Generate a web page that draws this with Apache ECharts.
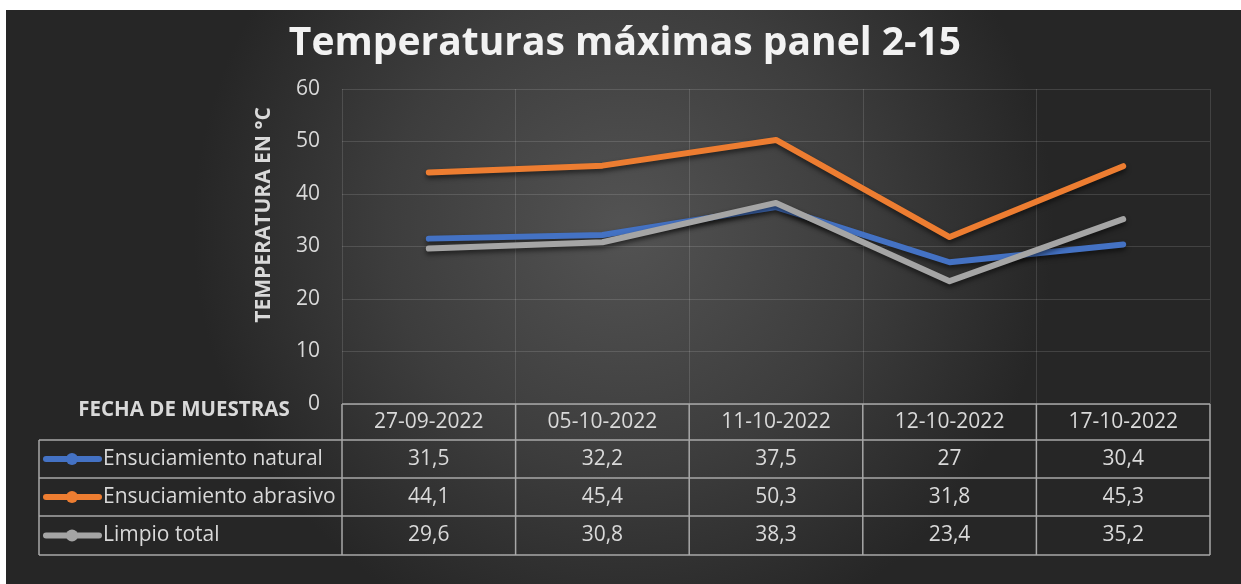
<!DOCTYPE html>
<html><head><meta charset="utf-8">
<script src="https://cdn.jsdelivr.net/npm/echarts@6/dist/echarts.min.js"></script>
<style>html,body{margin:0;background:#fff;overflow:hidden}#c{width:1241px;height:584px}</style>
</head><body><div id="c"></div>
<script>
const categories = ['27-09-2022','05-10-2022','11-10-2022','12-10-2022','17-10-2022'];
const natural = [31.5, 32.2, 37.5, 27, 30.4];
const abrasivo = [44.1, 45.4, 50.3, 31.8, 45.3];
const limpio = [29.6, 30.8, 38.3, 23.4, 35.2];
const seriesNames = ['Ensuciamiento natural', 'Ensuciamiento abrasivo', 'Limpio total'];
const yTicks = [0, 10, 20, 30, 40, 50, 60];
const titleText = 'Temperaturas máximas panel 2-15';
const yAxisTitle = 'TEMPERATURA EN °C';
const xAxisTitle = 'FECHA DE MUESTRAS';

const colors = ['#4472C4', '#ED7D31', '#A5A5A5'];
const seriesData = [natural, abrasivo, limpio];
const fmt = v => String(v).replace('.', ',');
const FONT = '"Open Sans", sans-serif';
const TXT = '#d9d9d9';

const chart = echarts.init(document.getElementById('c'));
const grid = { left: 342, right: 31, top: 89, bottom: 180 };

const option = {
  animation: false,
  backgroundColor: 'transparent',
  grid: grid,
  xAxis: {
    type: 'category',
    data: categories,
    boundaryGap: true,
    axisLine: { show: false },
    axisTick: { show: false },
    axisLabel: { color: TXT, fontSize: 21, fontFamily: FONT, margin: 8, interval: 0 },
    splitLine: { show: true, interval: 0, lineStyle: { color: 'rgba(255,255,255,0.13)', width: 1 } }
  },
  yAxis: {
    type: 'value',
    min: yTicks[0], max: yTicks[yTicks.length - 1], interval: 10,
    axisLine: { show: false },
    axisTick: { show: false },
    axisLabel: { color: TXT, fontSize: 21, fontFamily: FONT, margin: 22 },
    splitLine: { lineStyle: { color: 'rgba(255,255,255,0.13)', width: 1 } }
  },
  series: seriesData.map((d, i) => ({
    name: seriesNames[i],
    type: 'line',
    data: d,
    symbol: 'none',
    z: i === 2 ? 4 : 3,
    lineStyle: { color: colors[i], width: 6, cap: 'round', join: 'round',
      shadowColor: 'rgba(0,0,0,0.55)', shadowBlur: 5, shadowOffsetY: 3 }
  }))
};
chart.setOption(option);

// Build background, title and data table from the axes' pixel scale
const xs = categories.map((c, i) => chart.convertToPixel({ xAxisIndex: 0 }, i));
const half = (xs[1] - xs[0]) / 2;
const colEdges = [xs[0] - half].concat(xs.map(x => x + half));
const y0 = chart.convertToPixel({ yAxisIndex: 0 }, 0);
const rowEdges = [y0, y0 + 36, y0 + 74, y0 + 112, y0 + 151];
const tableLeft = 39;
const lineC = '#a8a8a8';

const g = [];
g.push({ type: 'rect', z: -10, silent: true,
  shape: { x: 6, y: 10, width: 1235, height: 574 },
  style: { fill: { type: 'radial', x: 0.5, y: 0.38, r: 0.75,
    colorStops: [{ offset: 0, color: '#535353' }, { offset: 0.55, color: '#3d3d3d' }, { offset: 1, color: '#262626' }] } } });
g.push({ type: 'text', z: 10, x: 625, y: 44,
  style: { text: titleText, fill: '#f2f2f2', font: 'bold 39px ' + FONT, textAlign: 'center', textVerticalAlign: 'middle',
    shadowColor: 'rgba(0,0,0,0.6)', shadowBlur: 4, shadowOffsetY: 2 } });
g.push({ type: 'text', z: 10, x: 264, y: 215, rotation: Math.PI / 2,
  style: { text: yAxisTitle, fill: TXT, font: 'bold 21px ' + FONT, textAlign: 'center', textVerticalAlign: 'middle' } });
g.push({ type: 'text', z: 10, x: 184, y: 410,
  style: { text: xAxisTitle, fill: TXT, font: 'bold 20.5px ' + FONT, textAlign: 'center', textVerticalAlign: 'middle' } });

// horizontal table lines
g.push({ type: 'line', z: 5, shape: { x1: colEdges[0], y1: rowEdges[0], x2: colEdges[5], y2: rowEdges[0] }, style: { stroke: lineC, lineWidth: 1.5 } });
for (let r = 1; r < rowEdges.length; r++) {
  g.push({ type: 'line', z: 5, shape: { x1: tableLeft, y1: rowEdges[r], x2: colEdges[5], y2: rowEdges[r] }, style: { stroke: lineC, lineWidth: 1.5 } });
}
// vertical table lines
colEdges.forEach(x => g.push({ type: 'line', z: 5, shape: { x1: x, y1: rowEdges[0], x2: x, y2: rowEdges[4] }, style: { stroke: lineC, lineWidth: 1.5 } }));
g.push({ type: 'line', z: 5, shape: { x1: tableLeft, y1: rowEdges[1], x2: tableLeft, y2: rowEdges[4] }, style: { stroke: lineC, lineWidth: 1.5 } });

// rows
seriesData.forEach((d, r) => {
  const yc = (rowEdges[r + 1] + rowEdges[r + 2]) / 2;
  g.push({ type: 'line', z: 6, shape: { x1: 46, y1: yc, x2: 99, y2: yc }, style: { stroke: colors[r], lineWidth: 6, lineCap: 'round' } });
  g.push({ type: 'circle', z: 7, shape: { cx: 72, cy: yc, r: 6 }, style: { fill: colors[r] } });
  g.push({ type: 'text', z: 6, x: 103, y: yc,
    style: { text: seriesNames[r], fill: TXT, font: '21px ' + FONT, textAlign: 'left', textVerticalAlign: 'middle' } });
  d.forEach((v, i) => g.push({ type: 'text', z: 6, x: xs[i], y: yc,
    style: { text: fmt(v), fill: TXT, font: '21px ' + FONT, textAlign: 'center', textVerticalAlign: 'middle' } }));
});
chart.setOption({ graphic: g });
</script></body></html>
